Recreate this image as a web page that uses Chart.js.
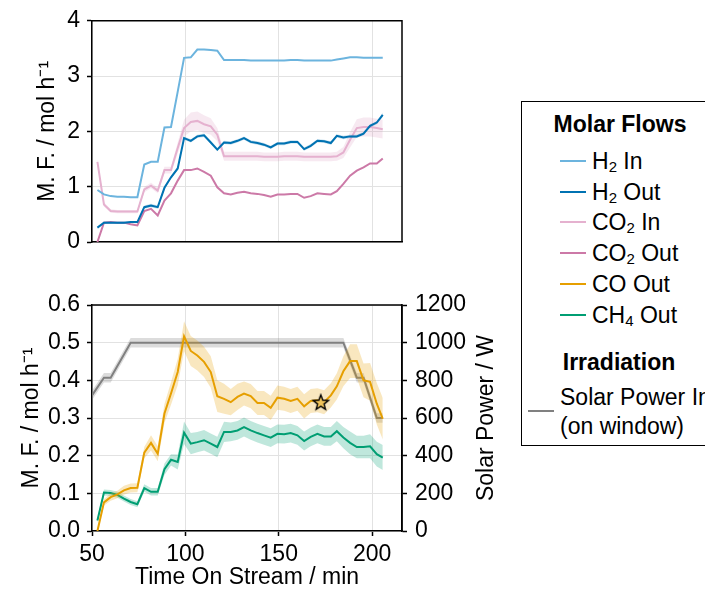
<!DOCTYPE html>
<html><head><meta charset="utf-8">
<script src="https://cdn.jsdelivr.net/npm/chart.js@4.4.1/dist/chart.umd.min.js"></script>
<style>
html,body{margin:0;padding:0;background:#fff;}
body{width:705px;height:596px;overflow:hidden;position:relative;font-family:'Liberation Sans',Arial,Helvetica,sans-serif;color:#000;}
canvas{position:absolute;left:0;}
#legbox{position:absolute;left:521px;top:101px;width:240px;height:345px;border:1.5px solid #000;box-sizing:border-box;}
.lt{position:absolute;font-size:23px;line-height:26px;height:26px;white-space:nowrap;}
.lt sub{font-size:15px;vertical-align:-3px;line-height:0;}
.hd{font-weight:bold;transform:translateX(-50%);}
.sw{position:absolute;height:2px;}
</style></head>
<body>
<canvas id="cTop" width="520" height="270" style="top:0"></canvas>
<canvas id="cBot" width="520" height="326" style="top:270px"></canvas>
<div id="legbox"></div>
<div id="legend"></div>
<script>
// ---------- data ----------
const times = [52.9, 56.4, 60.0, 63.6, 67.1, 70.7, 74.3, 78.0, 81.6, 85.2, 88.8, 92.3, 95.9, 99.3, 102.9, 106.4, 110.0, 113.6, 117.1, 120.7, 124.3, 127.9, 131.4, 135.0, 138.6, 142.1, 145.7, 149.3, 152.9, 156.4, 160.0, 163.6, 167.1, 170.7, 174.3, 177.9, 181.1, 184.6, 188.2, 191.8, 195.4, 198.9, 202.5, 205.7];

const h2In   = [0.94,0.86,0.83,0.82,0.82,0.81,0.81,1.40,1.45,1.45,2.07,2.08,2.72,3.33,3.34,3.48,3.48,3.47,3.46,3.29,3.29,3.29,3.29,3.28,3.28,3.28,3.28,3.28,3.28,3.29,3.29,3.28,3.28,3.28,3.28,3.28,3.30,3.32,3.34,3.34,3.33,3.33,3.33,3.33];
const h2Out  = [0.26,0.35,0.35,0.35,0.35,0.36,0.36,0.63,0.66,0.63,0.98,1.17,1.33,1.88,1.83,1.91,1.93,1.80,1.67,1.80,1.79,1.83,1.88,1.81,1.79,1.76,1.71,1.78,1.78,1.81,1.81,1.68,1.74,1.83,1.82,1.79,1.92,1.89,1.91,1.91,1.96,2.10,2.16,2.30];
const co2In  = [1.45,0.68,0.56,0.55,0.55,0.55,0.55,0.95,1.02,0.93,1.30,1.30,1.70,2.06,2.17,2.19,2.13,2.09,1.94,1.55,1.55,1.55,1.55,1.55,1.55,1.54,1.54,1.54,1.55,1.55,1.55,1.54,1.54,1.54,1.54,1.54,1.55,1.62,1.85,2.06,2.08,2.08,2.06,2.04];
const co2Out = [0.00,0.35,0.36,0.35,0.35,0.32,0.30,0.56,0.60,0.48,0.75,0.88,1.11,1.30,1.30,1.33,1.27,1.20,0.99,0.88,0.86,0.89,0.91,0.88,0.87,0.85,0.82,0.86,0.86,0.87,0.87,0.80,0.83,0.88,0.87,0.86,0.92,1.05,1.20,1.29,1.35,1.42,1.42,1.51];
const coOut  = [0.000,0.076,0.090,0.097,0.108,0.114,0.115,0.208,0.234,0.205,0.312,0.365,0.422,0.517,0.478,0.466,0.449,0.422,0.358,0.351,0.342,0.356,0.365,0.358,0.340,0.340,0.327,0.354,0.351,0.345,0.351,0.331,0.345,0.347,0.342,0.360,0.384,0.424,0.451,0.451,0.400,0.396,0.338,0.298];
const ch4Out = [0.028,0.102,0.101,0.096,0.086,0.077,0.071,0.114,0.104,0.104,0.164,0.189,0.183,0.261,0.232,0.236,0.241,0.232,0.223,0.263,0.263,0.267,0.276,0.267,0.260,0.254,0.248,0.258,0.257,0.260,0.254,0.239,0.250,0.258,0.251,0.251,0.265,0.248,0.234,0.223,0.223,0.225,0.204,0.195];

// half-widths of the shaded uncertainty bands
const h2OutErr  = [0.02,0.02,0.02,0.02,0.02,0.02,0.02,0.03,0.03,0.03,0.03,0.03,0.03,0.03,0.03,0.03,0.03,0.03,0.03,0.03,0.03,0.03,0.03,0.03,0.03,0.03,0.03,0.03,0.03,0.03,0.03,0.03,0.03,0.03,0.03,0.03,0.03,0.03,0.03,0.03,0.03,0.03,0.03,0.04];
const co2InErr  = [0.05,0.04,0.03,0.03,0.03,0.03,0.03,0.05,0.05,0.05,0.06,0.06,0.10,0.15,0.17,0.17,0.16,0.15,0.12,0.08,0.08,0.08,0.08,0.08,0.08,0.08,0.08,0.08,0.08,0.08,0.08,0.08,0.08,0.08,0.08,0.08,0.08,0.10,0.14,0.16,0.17,0.17,0.17,0.17];
const coOutErr  = [0.004,0.008,0.010,0.010,0.012,0.012,0.012,0.015,0.020,0.020,0.025,0.030,0.035,0.040,0.040,0.040,0.040,0.042,0.042,0.040,0.035,0.035,0.032,0.032,0.032,0.032,0.032,0.032,0.032,0.032,0.032,0.032,0.032,0.032,0.032,0.032,0.035,0.040,0.045,0.045,0.045,0.050,0.055,0.055];
const ch4OutErr = [0.008,0.008,0.008,0.008,0.008,0.008,0.008,0.010,0.010,0.010,0.015,0.015,0.020,0.030,0.028,0.027,0.027,0.027,0.027,0.027,0.025,0.025,0.025,0.025,0.025,0.025,0.025,0.025,0.025,0.025,0.025,0.025,0.025,0.025,0.025,0.025,0.027,0.028,0.030,0.030,0.030,0.032,0.033,0.033];

const solarTimes = [50, 56.4, 60.0, 70.7, 184.6, 191.8, 195.4, 202.5, 205.7];
const solarPower = [720, 814, 814, 1000, 1000, 814, 814, 600, 600];
const solarErr   = [25, 25, 25, 25, 25, 25, 25, 25, 25];

const starTime = [172.5];
const starValue = [0.342];

const xTicks = [50, 100, 150, 200];
const topYTicks = [0, 1, 2, 3, 4];
const botYTicks = [0, 0.1, 0.2, 0.3, 0.4, 0.5, 0.6];
const botYLabels = ['0.0','0.1','0.2','0.3','0.4','0.5','0.6'];
const powerTicks = [0, 200, 400, 600, 800, 1000, 1200];

const molarLegend = [
  {html:'H<sub>2</sub> In',   color:'#6cb4de'},
  {html:'H<sub>2</sub> Out',  color:'#0072b2'},
  {html:'CO<sub>2</sub> In',  color:'#e5b1cf'},
  {html:'CO<sub>2</sub> Out', color:'#cc79a7'},
  {html:'CO Out',             color:'#e69f00'},
  {html:'CH<sub>4</sub> Out', color:'#009e73'}
];

// ---------- helpers ----------
const FONT = "'Liberation Sans', Arial, Helvetica, sans-serif";
const FS = 23;
Chart.defaults.font.family = FONT;
Chart.defaults.font.size = FS;
Chart.defaults.color = '#000';

const pts = (ts, vs) => ts.map((t, i) => ({x: t, y: vs[i]}));
const add = (vs, es, s) => vs.map((v, i) => v + s * es[i]);

function band(ts, vs, es, color, yAxisID) {
  return [
    {data: pts(ts, add(vs, es, 1)), borderWidth: 0, pointRadius: 0, fill: false, yAxisID},
    {data: pts(ts, add(vs, es, -1)), borderWidth: 0, pointRadius: 0, fill: '-1', backgroundColor: color, yAxisID}
  ];
}
function line(ts, vs, color, yAxisID) {
  return {data: pts(ts, vs), borderColor: color, borderWidth: 2, pointRadius: 0, fill: false, tension: 0, yAxisID};
}
function order(list) { // list is bottom -> top
  const n = list.length;
  list.forEach((d, i) => { d.order = n - i; });
  return list;
}
const gridCol = '#e2e2e2';
const fixTicks = arr => (scale) => { scale.ticks = arr.map(v => ({value: v})); };

const frame = {id: 'frame', afterDraw(chart) {
  const {ctx, chartArea: a} = chart;
  ctx.save(); ctx.strokeStyle = '#000'; ctx.lineWidth = 1.5;
  ctx.beginPath(); ctx.moveTo(a.left, a.top); ctx.lineTo(a.right, a.top); ctx.lineTo(a.right, a.bottom); ctx.stroke();
  ctx.restore();
}};

// ---------- top chart ----------
const topDatasets = order([
  ...band(times, co2In, co2InErr, 'rgba(204,121,167,0.16)', 'y'),
  line(times, co2In, molarLegend[2].color, 'y'),
  line(times, h2In, molarLegend[0].color, 'y'),
  line(times, co2Out, molarLegend[3].color, 'y'),
  ...band(times, h2Out, h2OutErr, 'rgba(0,114,178,0.22)', 'y'),
  line(times, h2Out, molarLegend[1].color, 'y')
]);

new Chart(document.getElementById('cTop'), {
  type: 'line',
  data: {datasets: topDatasets},
  options: {
    responsive: false, animation: false, devicePixelRatio: 1,
    layout: {padding: {top: 18, right: 118, bottom: 0, left: 0}},
    plugins: {legend: {display: false}, tooltip: {enabled: false}},
    scales: {
      x: {type: 'linear', min: 50, max: 216,
          afterBuildTicks: fixTicks(xTicks),
          afterFit: s => { s.height = 28; },
          ticks: {display: false},
          grid: {color: gridCol, lineWidth: 1, drawTicks: false},
          border: {display: true, color: '#000', width: 1.5}},
      y: {type: 'linear', min: 0, max: 4,
          afterBuildTicks: fixTicks(topYTicks),
          afterFit: s => { s.width = 92; },
          ticks: {padding: 7, callback: (v, i) => String(topYTicks[i])},
          grid: {color: gridCol, lineWidth: 1, tickColor: '#000', tickLength: 5, tickWidth: 1.5},
          border: {display: true, color: '#000', width: 1.5},
          title: {display: true, text: 'M. F. / mol h⁻¹', padding: {top: 34, bottom: 0}, font: {size: FS}}}
    }
  },
  plugins: [frame]
});

// ---------- bottom chart ----------
function starImage() {
  const c = document.createElement('canvas'); c.width = 20; c.height = 20;
  const g = c.getContext('2d');
  g.beginPath();
  for (let i = 0; i < 10; i++) {
    const r = i % 2 ? 3.4 : 8;
    const a = -Math.PI / 2 + i * Math.PI / 5;
    g.lineTo(10 + r * Math.cos(a), 10.8 + r * Math.sin(a));
  }
  g.closePath();
  g.fillStyle = '#f1c45a'; g.fill();
  g.lineWidth = 1.4; g.strokeStyle = '#000'; g.stroke();
  return c;
}

const botDatasets = order([
  ...band(solarTimes, solarPower, solarErr, 'rgba(128,128,128,0.28)', 'y1'),
  line(solarTimes, solarPower, '#808080', 'y1'),
  ...band(times, ch4Out, ch4OutErr, 'rgba(0,158,115,0.25)', 'y'),
  line(times, ch4Out, molarLegend[5].color, 'y'),
  ...band(times, coOut, coOutErr, 'rgba(230,159,0,0.25)', 'y'),
  line(times, coOut, molarLegend[4].color, 'y'),
  {data: pts(starTime, starValue), showLine: false, pointStyle: starImage(), pointRadius: 10, yAxisID: 'y'}
]);

const rightTitle = {id: 'rightTitle', afterDraw(chart) {
  const {ctx, chartArea: a} = chart;
  ctx.save(); ctx.font = FS + 'px ' + FONT; ctx.fillStyle = '#000';
  ctx.textAlign = 'center'; ctx.textBaseline = 'middle';
  ctx.translate(487, (a.top + a.bottom) / 2); ctx.rotate(-Math.PI / 2);
  ctx.fillText('Solar Power / W', 0, 0);
  ctx.restore();
}};

new Chart(document.getElementById('cBot'), {
  type: 'line',
  data: {datasets: botDatasets},
  options: {
    responsive: false, animation: false, devicePixelRatio: 1,
    layout: {padding: {top: 35, right: 0, bottom: 0, left: 0}},
    plugins: {legend: {display: false}, tooltip: {enabled: false}},
    scales: {
      x: {type: 'linear', min: 50, max: 216,
          afterBuildTicks: fixTicks(xTicks),
          afterFit: s => { s.height = 65; },
          ticks: {padding: 5, callback: (v, i) => String(xTicks[i])},
          grid: {color: gridCol, lineWidth: 1, tickColor: '#000', tickLength: 5, tickWidth: 1.5},
          border: {display: true, color: '#000', width: 1.5},
          title: {display: true, text: 'Time On Stream / min', padding: {top: 0, bottom: 5}, font: {size: FS}}},
      y: {type: 'linear', position: 'left', min: 0, max: 0.6,
          afterBuildTicks: fixTicks(botYTicks),
          afterFit: s => { s.width = 92; },
          ticks: {padding: 7, callback: (v, i) => botYLabels[i]},
          grid: {color: gridCol, lineWidth: 1, tickColor: '#000', tickLength: 5, tickWidth: 1.5},
          border: {display: true, color: '#000', width: 1.5},
          title: {display: true, text: 'M. F. / mol h⁻¹', padding: {top: 18, bottom: 0}, font: {size: FS}}},
      y1: {type: 'linear', position: 'right', min: 0, max: 1200,
          afterBuildTicks: fixTicks(powerTicks),
          afterFit: s => { s.width = 118; },
          ticks: {padding: 8, callback: (v, i) => String(powerTicks[i])},
          grid: {drawOnChartArea: false, tickColor: '#000', tickLength: 5, tickWidth: 1.5},
          border: {display: true, color: '#000', width: 1.5}}
    }
  },
  plugins: [frame, rightTitle]
});

// ---------- legend (HTML text) ----------
const L = document.getElementById('legend');
function addText(html, left, cy, cls) {
  const d = document.createElement('div');
  d.className = 'lt' + (cls ? ' ' + cls : '');
  d.innerHTML = html; d.style.left = left + 'px'; d.style.top = (cy - 13) + 'px';
  L.appendChild(d);
}
function addSwatch(color, x0, x1, cy) {
  const d = document.createElement('div');
  d.className = 'sw'; d.style.background = color;
  d.style.left = x0 + 'px'; d.style.width = (x1 - x0) + 'px'; d.style.top = (cy - 1) + 'px';
  L.appendChild(d);
}
addText('Molar Flows', 620, 124, 'hd');
const rowY = [161, 192, 222, 253, 284, 315];
molarLegend.forEach((m, i) => { addSwatch(m.color, 560, 586, rowY[i]); addText(m.html, 592, rowY[i]); });
addText('Irradiation', 619, 362, 'hd');
addSwatch('#808080', 528, 554, 411);
addText('Solar Power Input', 560, 397);
addText('(on window)', 560, 426);
</script>
</body></html>
